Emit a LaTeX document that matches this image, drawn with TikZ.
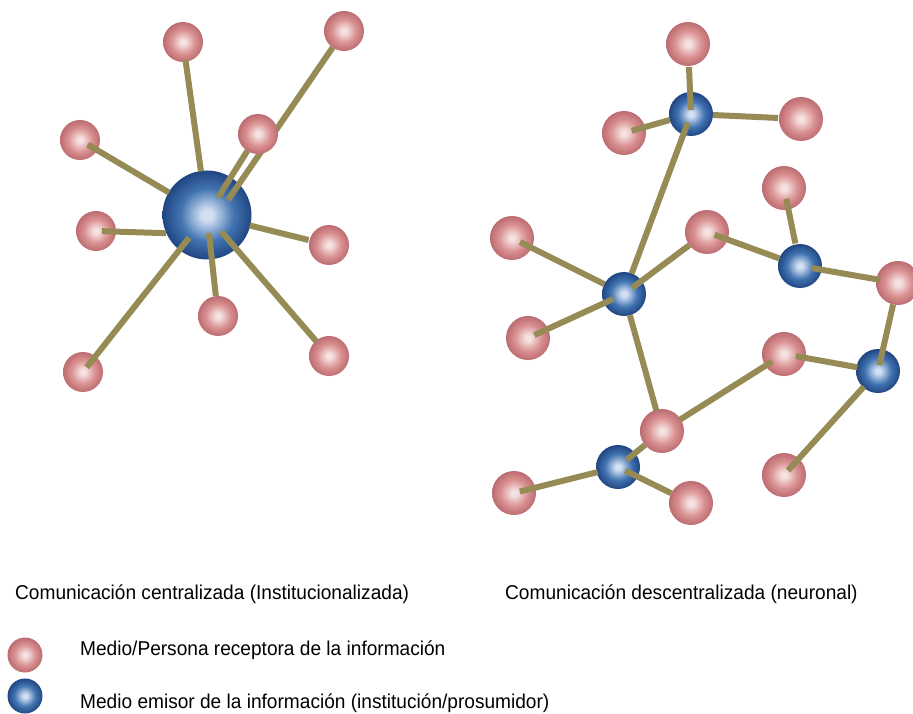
\documentclass[tikz,border=0pt]{standalone}
\usepackage{fontspec}
\setmainfont[FakeStretch=0.955]{Liberation Sans}
\usepackage{tikz}
\usetikzlibrary{calc}

\definecolor{pinkhi}{RGB}{246,226,226}
\definecolor{pinkmid}{RGB}{218,145,146}
\definecolor{pinklo}{RGB}{188,108,113}
\definecolor{bluehi}{RGB}{210,224,242}
\definecolor{bluemid}{RGB}{66,116,178}
\definecolor{bluelo}{RGB}{32,70,130}
\definecolor{olive}{RGB}{150,139,85}

\pgfdeclareradialshading{pinkball}{\pgfpoint{0bp}{0bp}}{color(0bp)=(pinkhi); color(3bp)=(pinkhi); color(15bp)=(pinkmid); color(25bp)=(pinklo); color(50bp)=(pinklo)}
\pgfdeclareradialshading{blueball}{\pgfpoint{0bp}{0bp}}{color(0bp)=(bluehi); color(3bp)=(bluehi); color(15bp)=(bluemid); color(25bp)=(bluelo); color(50bp)=(bluelo)}

\begin{document}
\begin{tikzpicture}[
		x=1pt, y=-1pt,
		every node/.style={font=\fontsize{20}{24}\selectfont},
		recv/.style={circle, inner sep=0pt, minimum size=#1, shading=pinkball},
		recv/.default=40pt,
		emit/.style={circle, inner sep=0pt, minimum size=#1, shading=blueball},
		emit/.default=44pt,
		link/.style={draw=olive, line width=6pt},
		caption/.style={anchor=base west, inner sep=0pt}
		]
		\useasboundingbox (0,0) rectangle (913,714);
		
		% === CENTRALISED NETWORK ===
		\node[emit=89pt] (hub) at (207,215) {};
		\foreach \name/\x/\y in {c1/183/42, c2/344/31, c4/80/140, c5/96/231,
			c6/83/372, c7/218/316, c8/329/245, c9/329/356} {
			\node[recv] (\name) at (\x,\y) {};
		}
		
		% long spoke runs behind c3
		\draw[link, shorten <=20pt] (c2.center) -- ([shift={(21,-15)}]hub.center);
		\node[recv] (c3) at (258,134) {};
		
		\draw[link, shorten <=6pt] (c5.center) -- (hub.204);
		\foreach \a/\s/\e in {c1/18/44, c3/20/21, c4/9/44, c6/6/29,
			c7/20/18, c8/21/44, c9/19/22} {
			\draw[link, shorten <=\s pt, shorten >=\e pt] (\a.center) -- (hub.center);
		}
		
		% === DECENTRALISED NETWORK ===
		\foreach \name/\x/\y in {d1/691/114, d2/624/294, d3/800/266,
			d4/618/467, d5/878/371} {
			\node[emit] (\name) at (\x,\y) {};
		}
		\foreach \name/\x/\y in {m1/688/44, m2/624/133, m3/801/119, m4/512/238,
			m5/528/338, m6/707/232, m7/784/188, m8/898/283, m9/662/431,
			m10/784/354, m11/784/475, m12/514/493, m13/691/503} {
			\node[recv=44pt] (\name) at (\x,\y) {};
		}
		
		\foreach \a/\b/\s/\e in {m1/d1/23/4, m2/d1/8/22, d1/m3/22/23, d1/d2/9/22,
			m4/d2/9/22, m5/d2/7/12, d2/m6/10/22, m6/d3/8/22, m7/d3/11/23,
			d3/m8/12/18, m8/d5/22/6, d2/m9/22/21, m9/m10/21/14, m10/d5/12/21,
			d5/m11/21/6, d4/m9/11/22, d4/m13/8/22, m12/d4/6/21} {
			\draw[link, shorten <=\s pt, shorten >=\e pt] (\a.center) -- (\b.center);
		}
		
		% === CAPTIONS AND LEGEND ===
		\node[caption] (titleCen) at (15,599) {Comunicación centralizada (Institucionalizada)};
		\node[caption] (titleDec) at (505,599) {Comunicación descentralizada (neuronal)};
		
		\node[recv=35pt] (legRecv) at (25,655) {};
		\node[emit=35pt] (legEmit) at (25,696) {};
		\node[caption] (txtRecv) at (80,655) {Medio/Persona receptora de la información};
		\node[caption] (txtEmit) at (80,708) {Medio emisor de la información (institución/prosumidor)};
		
\end{tikzpicture}
\end{document}
